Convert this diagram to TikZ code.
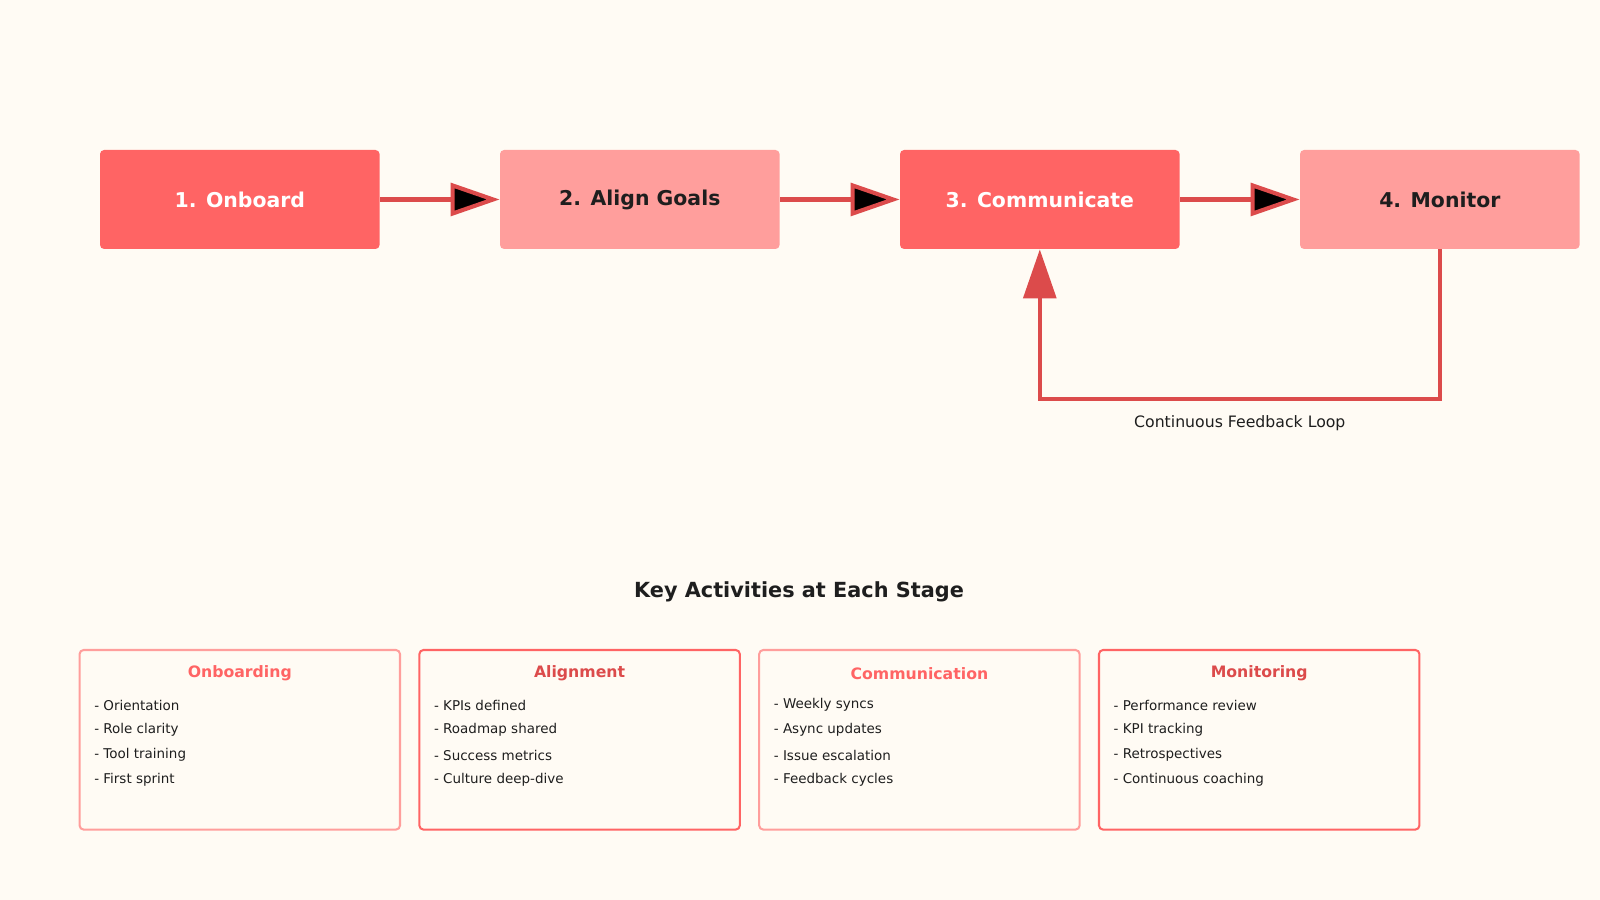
\documentclass[tikz,border=0pt]{standalone}
\usepackage{fontspec}
\setmainfont{DejaVu Sans}
\usepackage{tikz}
\usetikzlibrary{arrows.meta}
\usetikzlibrary{positioning}
\definecolor{bgcol}{HTML}{FFFBF4}
\definecolor{redA}{HTML}{FF6464}
\definecolor{redB}{HTML}{FF9E9C}
\definecolor{redC}{HTML}{DC4B4B}
\definecolor{txt}{HTML}{1E1E1E}

\begin{document}
\begin{tikzpicture}[x=0.5pt,y=-0.5pt,
  stage/.style={rectangle, rounded corners=2pt, minimum width=137pt, minimum height=48.5pt, inner sep=0pt, font=\fontsize{10}{12}\selectfont\bfseries},
  dark stage/.style={stage, fill=redA, text=white},
  light stage/.style={stage, fill=redB, text=txt},
  flow/.style={draw=redC, line width=2pt, -{Triangle[length=24pt,width=16pt]}},
  card/.style={rectangle, rounded corners=2pt, line width=1pt, minimum width=157pt, minimum height=88pt, inner sep=0pt, fill=bgcol},
  head/.style={font=\fontsize{7.7}{9}\selectfont\bfseries},
  item/.style={anchor=west, inner sep=0pt, text=txt, font=\fontsize{6.6}{8}\selectfont}]
  \fill[bgcol] (0,0) rectangle (1568,882);
  \useasboundingbox (0,0) rectangle (1568,882);
			% Stages
			\node[dark stage] (1) at (235,195.5) {1. Onboard};
			\node[light stage] (2) at (627,195.5) {2. Align Goals};
			\node[dark stage] (3) at (1019,195.5) {3. Communicate};
			\node[light stage] (4) at (1411,195.5) {4. Monitor};
			
			\path[flow] (1) edge (2) (2) edge (3) (3) edge (4);
			
			% Feedback loop
			\coordinate (loopR) at (1411,391);
			\coordinate (loopL) at (1019,391);
			\draw[flow] (4.south) -- (loopR) -- (loopL) -- (3.south);
			\node[text=txt, font=\fontsize{7.7}{9}\selectfont] (fb) at (1215,415) {Continuous Feedback Loop};
			
			% Activities
			\node[text=txt, font=\fontsize{10.2}{12}\selectfont\bfseries] (title) at (783,580) {Key Activities at Each Stage};
			
			\foreach \n/\x/\bc/\hc/\hd/\a/\b/\c/\d in {
			  on/235/redB/redA/Onboarding/Orientation/Role clarity/Tool training/First sprint,
			  al/568/redA/redC/Alignment/KPIs defined/Roadmap shared/Success metrics/Culture deep-dive,
			  co/901/redB/redA/Communication/Weekly syncs/Async updates/Issue escalation/Feedback cycles,
			  mo/1234/redA/redC/Monitoring/Performance review/KPI tracking/Retrospectives/Continuous coaching}{
			  \node[card, draw=\bc] (\n) at (\x,725) {};
			  \node[head, text=\hc] (\n h) at (\x,660) {\hd};
			  \node[item] (\n1) at ([xshift=7.5pt]\n.west |- 0,691) {- \a};
			  \node[item] (\n2) at ([xshift=7.5pt]\n.west |- 0,715.5) {- \b};
			  \node[item] (\n3) at ([xshift=7.5pt]\n.west |- 0,740) {- \c};
			  \node[item] (\n4) at ([xshift=7.5pt]\n.west |- 0,764.5) {- \d};
			}
		\end{tikzpicture}
\end{document}
